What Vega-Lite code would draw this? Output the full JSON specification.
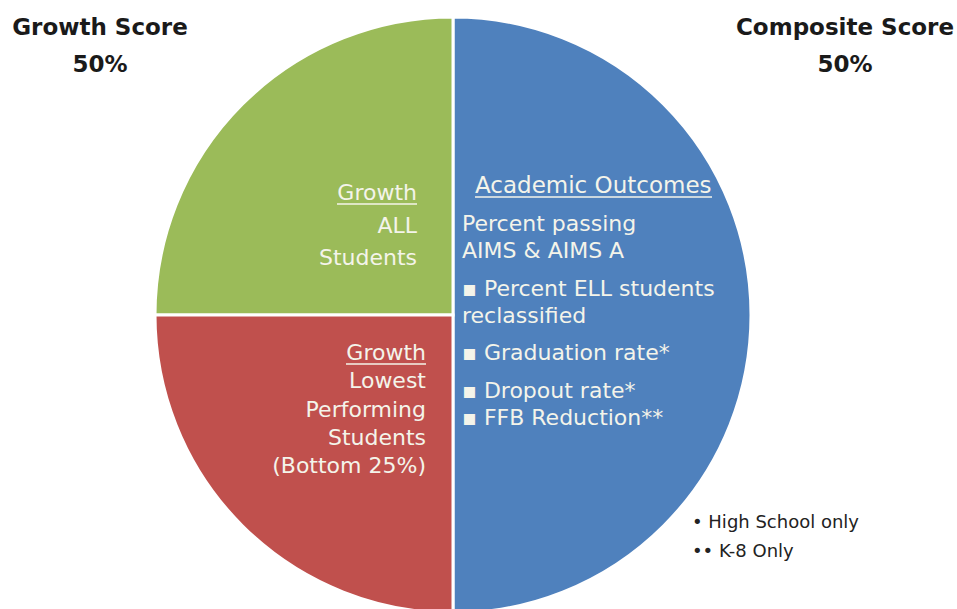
{
  "$schema": "https://vega.github.io/schema/vega-lite/v6.json",
  "width": 906,
  "height": 588,
  "padding": {"left": 0, "top": 21, "right": 51, "bottom": 0},
  "autosize": {"type": "none"},
  "background": "white",
  "config": {"view": {"stroke": null}},
  "datasets": {
    "slices": [
      {"part": "Composite Score", "share": 50},
      {"part": "Growth – All Students", "share": 25},
      {"part": "Growth – Lowest Performing Students", "share": 25}
    ],
    "labels": [
      {"block": "h1", "text": ["Growth Score", "50%"]},
      {"block": "h2", "text": ["Composite Score", "50%"]},
      {"block": "g", "text": ["Growth", "ALL", "Students"]},
      {"block": "r", "text": ["Growth", "Lowest", "Performing", "Students", "(Bottom 25%)"]},
      {"block": "b1", "text": ["Academic Outcomes"]},
      {"block": "b2", "text": ["Percent passing", "AIMS & AIMS A"]},
      {"block": "b3", "text": ["▪ Percent ELL  students", "reclassified"]},
      {"block": "b4", "text": ["▪ Graduation rate*"]},
      {"block": "b5", "text": ["▪ Dropout rate*", "▪ FFB Reduction**"]},
      {"block": "f", "text": ["• High School only", "•• K-8 Only"]}
    ]
  },
  "layer": [
    {
      "data": {"name": "slices"},
      "mark": {"type": "arc", "radius": 298, "stroke": "white", "strokeWidth": 3},
      "encoding": {
        "theta": {"field": "share", "type": "quantitative", "stack": true, "scale": {"range": [3.14159265, 9.42477796]}},
        "order": {"field": "part", "type": "ordinal", "sort": "descending"},
        "color": {
          "field": "part", "type": "nominal", "legend": null,
          "scale": {
            "domain": ["Composite Score", "Growth – All Students", "Growth – Lowest Performing Students"],
            "range": ["#4f81bd", "#9bbb59", "#c0504d"]
          }
        }
      }
    },
    {
      "data": {"name": "labels"},
      "transform": [{"filter": "datum.block === 'h1'"}],
      "mark": {"type": "text", "x": 100, "y": 14, "align": "center", "baseline": "alphabetic", "font": "DejaVu Sans", "fontWeight": "bold", "fontSize": 23, "lineHeight": 37, "color": "#1a1a1a"},
      "encoding": {"text": {"field": "text"}}
    },
    {
      "data": {"name": "labels"},
      "transform": [{"filter": "datum.block === 'h2'"}],
      "mark": {"type": "text", "x": 845, "y": 14, "align": "center", "baseline": "alphabetic", "font": "DejaVu Sans", "fontWeight": "bold", "fontSize": 23, "lineHeight": 37, "color": "#1a1a1a"},
      "encoding": {"text": {"field": "text"}}
    },
    {
      "data": {"name": "labels"},
      "transform": [{"filter": "datum.block === 'g'"}],
      "mark": {"type": "text", "x": 417, "y": 179, "align": "right", "baseline": "alphabetic", "font": "DejaVu Sans", "fontSize": 22, "lineHeight": 32.5, "color": "#f4f4ea"},
      "encoding": {"text": {"field": "text"}}
    },
    {
      "data": {"name": "labels"},
      "transform": [{"filter": "datum.block === 'g'"}],
      "mark": {"type": "rule", "stroke": "#f4f4ea", "strokeWidth": 1.5},
      "encoding": {"x": {"value": 337}, "x2": {"value": 417}, "y": {"value": 183}}
    },
    {
      "data": {"name": "labels"},
      "transform": [{"filter": "datum.block === 'r'"}],
      "mark": {"type": "text", "x": 426, "y": 339, "align": "right", "baseline": "alphabetic", "font": "DejaVu Sans", "fontSize": 22, "lineHeight": 28.3, "color": "#f4f4ea"},
      "encoding": {"text": {"field": "text"}}
    },
    {
      "data": {"name": "labels"},
      "transform": [{"filter": "datum.block === 'r'"}],
      "mark": {"type": "rule", "stroke": "#f4f4ea", "strokeWidth": 1.5},
      "encoding": {"x": {"value": 346}, "x2": {"value": 426}, "y": {"value": 343}}
    },
    {
      "data": {"name": "labels"},
      "transform": [{"filter": "datum.block === 'b1'"}],
      "mark": {"type": "text", "x": 475, "y": 172, "align": "left", "baseline": "alphabetic", "font": "DejaVu Sans", "fontSize": 23, "color": "#f4f4ea"},
      "encoding": {"text": {"field": "text"}}
    },
    {
      "data": {"name": "labels"},
      "transform": [{"filter": "datum.block === 'b1'"}],
      "mark": {"type": "rule", "stroke": "#f4f4ea", "strokeWidth": 1.5},
      "encoding": {"x": {"value": 475}, "x2": {"value": 712}, "y": {"value": 176}}
    },
    {
      "data": {"name": "labels"},
      "transform": [{"filter": "datum.block === 'b2'"}],
      "mark": {"type": "text", "x": 462, "y": 210, "align": "left", "baseline": "alphabetic", "font": "DejaVu Sans", "fontSize": 22, "lineHeight": 27, "color": "#f4f4ea"},
      "encoding": {"text": {"field": "text"}}
    },
    {
      "data": {"name": "labels"},
      "transform": [{"filter": "datum.block === 'b3'"}],
      "mark": {"type": "text", "x": 462, "y": 275, "align": "left", "baseline": "alphabetic", "font": "DejaVu Sans", "fontSize": 22, "lineHeight": 27, "color": "#f4f4ea"},
      "encoding": {"text": {"field": "text"}}
    },
    {
      "data": {"name": "labels"},
      "transform": [{"filter": "datum.block === 'b4'"}],
      "mark": {"type": "text", "x": 462, "y": 339, "align": "left", "baseline": "alphabetic", "font": "DejaVu Sans", "fontSize": 22, "color": "#f4f4ea"},
      "encoding": {"text": {"field": "text"}}
    },
    {
      "data": {"name": "labels"},
      "transform": [{"filter": "datum.block === 'b5'"}],
      "mark": {"type": "text", "x": 462, "y": 377, "align": "left", "baseline": "alphabetic", "font": "DejaVu Sans", "fontSize": 22, "lineHeight": 27, "color": "#f4f4ea"},
      "encoding": {"text": {"field": "text"}}
    },
    {
      "data": {"name": "labels"},
      "transform": [{"filter": "datum.block === 'f'"}],
      "mark": {"type": "text", "x": 692, "y": 507, "align": "left", "baseline": "alphabetic", "font": "DejaVu Sans", "fontSize": 18, "lineHeight": 29, "color": "#222222"},
      "encoding": {"text": {"field": "text"}}
    }
  ]
}
